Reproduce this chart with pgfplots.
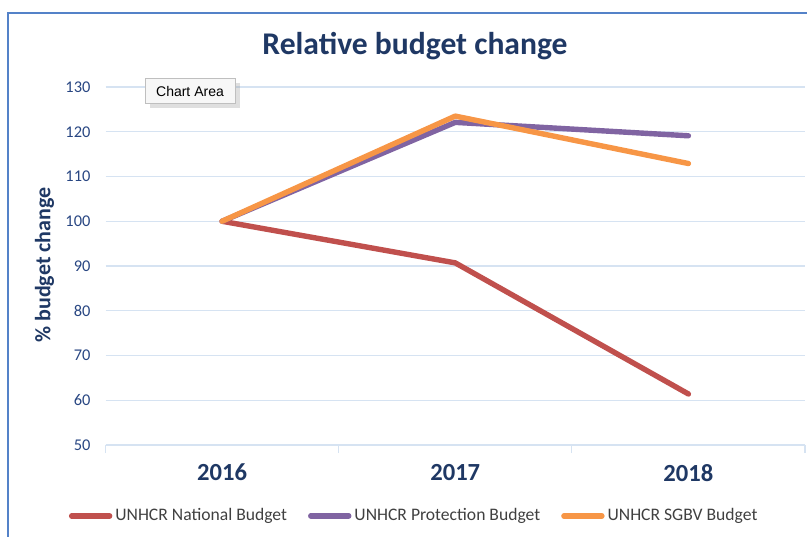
\documentclass[border=0pt]{standalone}
\usepackage{pgfplots}
\pgfplotsset{compat=1.18}
\usepackage{fontspec}
\setmainfont{Carlito}
\newfontfamily\arialf{Liberation Sans}
\usetikzlibrary{shadows}
\definecolor{ttl}{RGB}{31,56,100}
\definecolor{tick}{RGB}{40,70,130}
\definecolor{grid}{RGB}{214,227,242}
\definecolor{frame}{RGB}{84,130,200}
\definecolor{cred}{RGB}{192,80,77}
\definecolor{cpur}{RGB}{128,100,162}
\definecolor{corg}{RGB}{247,150,70}
\begin{document}
\begin{tikzpicture}
\path[use as bounding box] (0,0) rectangle (403.5pt,268pt);
\draw[frame, line width=0.8pt] (4pt,-2pt) -- (4pt,261.5pt) -- (410pt,261.5pt);
\begin{axis}[
  scale only axis,
  width=349.75pt, height=179pt,
  at={(52.75pt,45.5pt)}, anchor=south west,
  xmin=-0.5, xmax=2.5, ymin=50, ymax=130,
  xtick={0,1,2}, xticklabels={2016,2017,2018},
  ytick={50,60,...,130},
  ymajorgrids, xmajorgrids=false,
  major grid style={draw=grid, line width=0.6pt},
  axis line style={draw=none},
  xtick style={draw=none}, ytick style={draw=none},
  extra x ticks={-0.5,0.5,1.5,2.5}, extra x tick labels={},
  extra x tick style={xtick style={draw=grid, line width=0.6pt}, major tick length=4pt, tick align=outside, xtick pos=lower, xmajorgrids=false, ymajorgrids=false},
  /pgf/number format/assume math mode=true,
  yticklabel style={font=\fontsize{8.2}{10}\selectfont, text=tick, anchor=east, xshift=-4pt},
  xticklabel style={font=\bfseries\fontsize{12.3}{14}\selectfont, text=ttl, yshift=-6pt},
  ylabel={\% budget change},
  ylabel style={font=\bfseries\fontsize{11}{13}\selectfont, text=ttl, at={(axis description cs:-0.087,0.503)}, anchor=center},
  title={Relative budget change},
  title style={font=\bfseries\fontsize{15.8}{18}\selectfont, text=ttl, at={(axis description cs:0.4425,1.081)}, anchor=center},
  legend columns=3,
  legend style={draw=none, fill=none, font=\fontsize{8.8}{10}\selectfont, text=black!75, at={(axis description cs:0.442,-0.198)}, anchor=center, nodes={inner xsep=1.5pt}, /tikz/every even column/.append style={column sep=9pt}},
  legend image code/.code={\draw[#1, line width=2.7pt, line cap=round] (0pt,0pt) -- (19pt,0pt);},
  every axis plot/.append style={line width=2.7pt, line cap=round, line join=round, mark=none},
  clip=false,
]
\draw[grid, line width=0.6pt] (axis cs:-0.5,50) -- (axis cs:2.5,50);
\addplot[cred] coordinates {(0,100) (1,90.7) (2,61.4)};
\addlegendentry{UNHCR National Budget}
\addplot[cpur] coordinates {(0,100) (1,122.1) (2,119.1)};
\addlegendentry{UNHCR Protection Budget}
\addplot[corg] coordinates {(0,100) (1,123.5) (2,112.9)};
\addlegendentry{UNHCR SGBV Budget}
\end{axis}
\node[draw=black!25, fill=black!3, drop shadow={opacity=0.25}, inner sep=2.5pt, minimum height=12.5pt, minimum width=45pt, font=\arialf\fontsize{7}{8}\selectfont] at (95pt,222.5pt) {Chart Area};
\end{tikzpicture}
\end{document}
